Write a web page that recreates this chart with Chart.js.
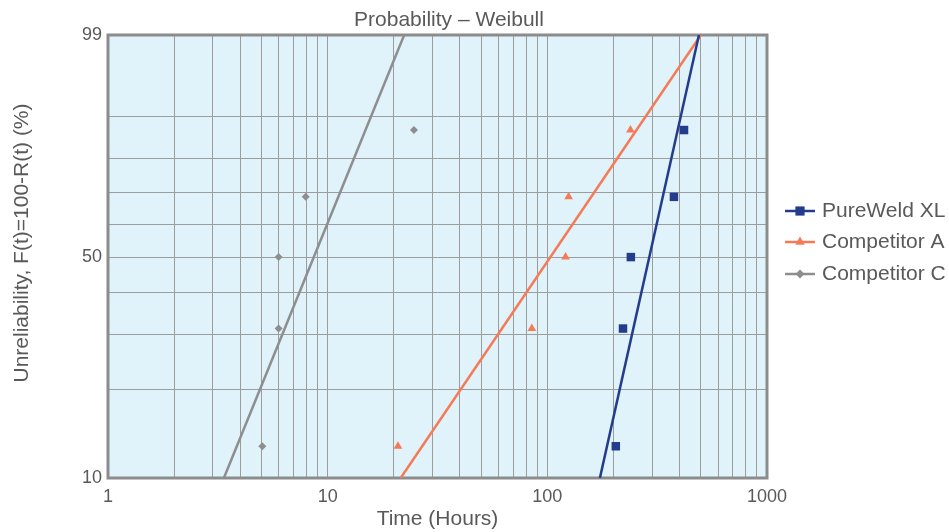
<!DOCTYPE html>
<html>
<head>
<meta charset="utf-8">
<script src="https://cdn.jsdelivr.net/npm/chart.js@4"></script>
<style>
  html, body { margin: 0; padding: 0; background: #fff; }
  #wrap { width: 949px; height: 532px; }
</style>
</head>
<body>
<div id="wrap"><canvas id="chart" width="949" height="532"></canvas></div>
<script>
// data
const seriesNames = ['PureWeld XL', 'Competitor A', 'Competitor C'];
const seriesColors = ['#233c8c', '#f47b56', '#8e8e90'];
const unreliability = [12.9, 31.4, 50, 68.6, 87.1]; // %
const pureWeldHours = [205, 221, 240, 377, 419];
const compAHours = [20.9, 85, 121, 125, 239];
const compCHours = [5.04, 5.98, 5.98, 7.94, 24.7];

// fitted lines, hours at F = 10% and F = 99%
const fitPercents = [10, 99];
const pureWeldFit = [173.5, 490];
const compAFit = [21.5, 500];
const compCFit = [3.37, 22.3];

const yGridPercents = [10, 20, 30, 40, 50, 60, 70, 80, 90, 99];
const yLabelPercents = [10, 50, 99];
const xGridHours = [1, 2, 3, 4, 5, 6, 7, 8, 9, 10, 20, 30, 40, 50, 60, 70, 80, 90,
  100, 200, 300, 400, 500, 600, 700, 800, 900, 1000];
const xLabelHours = [1, 10, 100, 1000];

const textColor = '#595959';
const font = 'Liberation Sans, Arial, Helvetica, sans-serif';

// weibull probability paper transform
const weibull = p => Math.log(-Math.log(1 - p / 100));

function points(hours, percents) {
  return hours.map((h, i) => ({ x: h, y: weibull(percents[i]) }));
}

const markerStyles = ['rect', 'triangle', 'rectRot'];
const markerRadius = [6, 5, 4];
const pointSets = [pureWeldHours, compAHours, compCHours];
const fitSets = [pureWeldFit, compAFit, compCFit];

const datasets = [];
seriesNames.forEach((name, i) => {
  datasets.push({
    label: name,
    data: points(fitSets[i], fitPercents),
    borderColor: seriesColors[i],
    borderWidth: 2.5,
    pointRadius: 0,
    showLine: true,
    fill: false
  });
  datasets.push({
    label: name + ' data',
    data: points(pointSets[i], unreliability),
    backgroundColor: seriesColors[i],
    borderColor: seriesColors[i],
    borderWidth: 0,
    pointStyle: markerStyles[i],
    pointRadius: markerRadius[i],
    showLine: false
  });
});

const plotDecor = {
  id: 'plotDecor',
  beforeDraw(chart) {
    const { ctx, chartArea: a } = chart;
    ctx.save();
    ctx.fillStyle = '#e0f2fa';
    ctx.fillRect(a.left, a.top, a.right - a.left, a.bottom - a.top);
    ctx.restore();
  },
  beforeDatasetsDraw(chart) {
    const { ctx, chartArea: a } = chart;
    ctx.save();
    ctx.strokeStyle = '#8c8c8c';
    ctx.lineWidth = 3;
    ctx.strokeRect(a.left, a.top, a.right - a.left, a.bottom - a.top);
    ctx.restore();
  },
  afterDraw(chart) {
    const ctx = chart.ctx;
    ctx.save();
    ctx.fillStyle = textColor;
    ctx.font = '21px ' + font;
    ctx.textAlign = 'center';
    ctx.textBaseline = 'middle';
    ctx.fillText('Probability \u2013 Weibull', 449, 20);

    // y axis title
    ctx.save();
    ctx.translate(22, 243);
    ctx.rotate(-Math.PI / 2);
    ctx.fillText('Unreliability, F(t)=100-R(t) (%)', 0, 0);
    ctx.restore();

    // legend: line with marker
    const ys = [211, 242, 274];
    seriesNames.forEach((name, i) => {
      const y = ys[i];
      ctx.strokeStyle = seriesColors[i];
      ctx.lineWidth = 2.5;
      ctx.beginPath();
      ctx.moveTo(785, y);
      ctx.lineTo(815, y);
      ctx.stroke();
      ctx.fillStyle = seriesColors[i];
      Chart.helpers.drawPoint(ctx, {
        pointStyle: markerStyles[i],
        radius: markerRadius[i] + 0.5,
        rotation: 0,
        borderWidth: 0
      }, 800, y);
      ctx.fillStyle = textColor;
      ctx.textAlign = 'left';
      ctx.fillText(name, 822, y);
    });
    ctx.restore();
  }
};

new Chart(document.getElementById('chart'), {
  type: 'scatter',
  data: { datasets },
  options: {
    responsive: false,
    animation: false,
    layout: { padding: { top: 35, right: 182, left: 0, bottom: 0 } },
    plugins: {
      legend: { display: false },
      title: { display: false },
      tooltip: { enabled: false }
    },
    scales: {
      x: {
        type: 'logarithmic',
        min: 1,
        max: 1000,
        afterBuildTicks: s => { s.ticks = xGridHours.map(v => ({ value: v })); },
        afterFit: s => { s.height = 54; },
        grid: { color: '#9c9c9c', lineWidth: 1, drawTicks: false },
        border: { display: false },
        ticks: {
          autoSkip: false,
          maxRotation: 0,
          padding: 8,
          color: textColor,
          font: { family: font, size: 18 },
          callback: v => xLabelHours.includes(v) ? String(v) : ''
        },
        title: {
          display: true,
          text: 'Time (Hours)',
          color: textColor,
          font: { family: font, size: 21 },
          padding: { top: 0, bottom: 0 }
        }
      },
      y: {
        type: 'linear',
        min: weibull(10),
        max: weibull(99),
        afterBuildTicks: s => { s.ticks = yGridPercents.map(p => ({ value: weibull(p) })); },
        afterFit: s => { s.width = 108; },
        grid: { color: '#9c9c9c', lineWidth: 1, drawTicks: false },
        border: { display: false },
        ticks: {
          autoSkip: false,
          padding: 6,
          color: textColor,
          font: { family: font, size: 18 },
          callback: (v, i) => yLabelPercents.includes(yGridPercents[i]) ? String(yGridPercents[i]) : ''
        },
        title: { display: false }
      }
    }
  },
  plugins: [plotDecor]
});
</script>
</body>
</html>
